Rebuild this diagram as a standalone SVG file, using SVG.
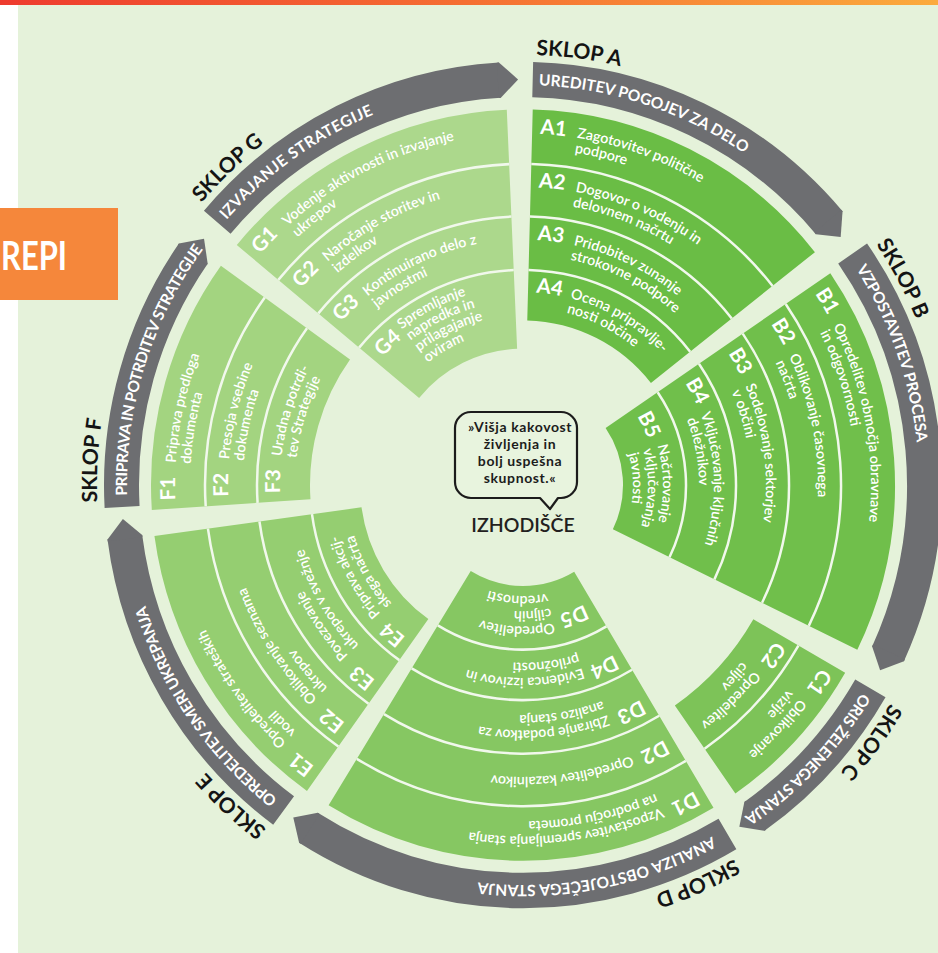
<svg xmlns="http://www.w3.org/2000/svg" xmlns:xlink="http://www.w3.org/1999/xlink" width="938" height="953" viewBox="0 0 938 953">
<defs>
<linearGradient id="tg" x1="0" y1="0" x2="1" y2="0">
<stop offset="0" stop-color="#ee3b2e"/><stop offset="0.5" stop-color="#f56f32"/><stop offset="1" stop-color="#fbab3d"/>
</linearGradient>
<style>
.sk{font-family:Lato,"Open Sans","Liberation Sans",sans-serif;font-weight:700;font-size:21px;fill:#141414}
.bt{font-family:Lato,"Open Sans","Liberation Sans",sans-serif;font-weight:700;font-size:15.5px;fill:#ffffff}
.lb{font-family:Lato,"Open Sans","Liberation Sans",sans-serif;font-weight:700;font-size:20.5px;fill:#ffffff}
.ds{font-family:Lato,"Open Sans","Liberation Sans",sans-serif;font-weight:600;font-size:14.2px;fill:#ffffff}
.band{fill:none;stroke:#6d6e71;stroke-width:35}
.sec{fill:none}
.dv{fill:none;stroke:#f1f8ec;stroke-width:2.5}
.arw{fill:#6d6e71}
</style>
<path id="p426" d="M0,-426A426,426 0 0 1 0,426"/>
<path id="p396" d="M0,-396A396,396 0 0 1 0,396"/>
<path id="p348" d="M0,-348A348,348 0 0 1 0,348"/>
<path id="p333" d="M0,-333A333,333 0 0 1 0,333"/>
<path id="p295" d="M0,-295A295,295 0 0 1 0,295"/>
<path id="p289" d="M0,-289A289,289 0 0 1 0,289"/>
<path id="p280" d="M0,-280A280,280 0 0 1 0,280"/>
<path id="p243" d="M0,-243A243,243 0 0 1 0,243"/>
<path id="p228" d="M0,-228A228,228 0 0 1 0,228"/>
<path id="p196" d="M0,-196A196,196 0 0 1 0,196"/>
<path id="p191" d="M0,-191A191,191 0 0 1 0,191"/>
<path id="p189" d="M0,-189A189,189 0 0 1 0,189"/>
<path id="p182" d="M0,-182A182,182 0 0 1 0,182"/>
<path id="p176" d="M0,-176A176,176 0 0 1 0,176"/>
<path id="p168" d="M0,-168A168,168 0 0 1 0,168"/>
<path id="p154" d="M0,-154A154,154 0 0 1 0,154"/>
<path id="p140" d="M0,-140A140,140 0 0 1 0,140"/>
<path id="p133" d="M0,-133A133,133 0 0 1 0,133"/>
<path id="p125" d="M0,-125A125,125 0 0 1 0,125"/>
<path id="p110" d="M0,-110A110,110 0 0 1 0,110"/>
<path id="arrowhead" d="M-2,-419 L0,-419 L18.2,-401.1 L0,-384 L-2,-384 Z"/>
</defs>

<rect x="0" y="0" width="938" height="953" fill="#ffffff"/>
<rect x="18" y="5" width="920" height="948" fill="#e5f2da"/>
<rect x="0" y="0" width="938" height="5" fill="url(#tg)"/>

<g id="tab">
<rect x="0" y="208" width="118" height="92" fill="#f5873b"/>
<text x="1" y="270" font-family="Lato,'Open Sans','Liberation Sans',sans-serif" font-weight="700" font-size="41" fill="#ffffff" textLength="66" lengthAdjust="spacingAndGlyphs">REPI</text>
</g>

<g id="wheel" transform="translate(523,485) scale(1,1.01)">

<g id="connectors">
<circle class="band" r="401.5" pathLength="360" stroke-dasharray="48.3 311.7" transform="rotate(-88.6)"/>
<use href="#arrowhead" class="arw" transform="rotate(49.7)"/>
<circle class="band" r="401.5" pathLength="360" stroke-dasharray="59.4 300.6" transform="rotate(-34.8)"/>
<use href="#arrowhead" class="arw" transform="rotate(114.6)"/>
<circle class="band" r="401.5" pathLength="360" stroke-dasharray="24.7 335.3" transform="rotate(30.1)"/>
<use href="#arrowhead" class="arw" transform="rotate(144.8)"/>
<circle class="band" r="401.5" pathLength="360" stroke-dasharray="62.9 297.1" transform="rotate(59.4)"/>
<use href="#arrowhead" class="arw" transform="rotate(212.3)"/>
<circle class="band" r="401.5" pathLength="360" stroke-dasharray="46 314" transform="rotate(126.6)"/>
<use href="#arrowhead" class="arw" transform="rotate(262.6)"/>
<circle class="band" r="401.5" pathLength="360" stroke-dasharray="37.9 322.1" transform="rotate(176.9)"/>
<use href="#arrowhead" class="arw" transform="rotate(304.8)"/>
<circle class="band" r="401.5" pathLength="360" stroke-dasharray="46.3 313.7" transform="rotate(220.4)"/>
<use href="#arrowhead" class="arw" transform="rotate(356.7)"/>
</g>

<g id="sklop-a">
<circle class="sec" r="267.5" stroke="#6abd45" stroke-width="209" pathLength="360" stroke-dasharray="50.2 309.8" transform="rotate(-88.5)"/>
<g transform="rotate(-88.5)">
<circle class="dv" r="318" pathLength="360" stroke-dasharray="50.2 309.8"/>
<circle class="dv" r="266" pathLength="360" stroke-dasharray="50.2 309.8"/>
<circle class="dv" r="213" pathLength="360" stroke-dasharray="50.2 309.8"/>
</g>
<text class="bt" transform="rotate(2.3)"><textPath href="#p396" textLength="219" lengthAdjust="spacing">UREDITEV POGOJEV ZA DELO</textPath></text>
<text class="sk" transform="rotate(1.8)"><textPath href="#p426">SKLOP A</textPath></text>
<text class="lb" transform="rotate(2.82)"><textPath href="#p348">A1</textPath></text>
<text class="ds" transform="rotate(8.9)"><textPath href="#p348">Zagotovitev politične</textPath></text>
<text class="ds" transform="rotate(8.9)"><textPath href="#p333">podpore</textPath></text>
<text class="lb" transform="rotate(3.05)"><textPath href="#p295">A2</textPath></text>
<text class="ds" transform="rotate(10.2)"><textPath href="#p295">Dogovor o vodenju in</textPath></text>
<text class="ds" transform="rotate(10.2)"><textPath href="#p280">delovnem načrtu</textPath></text>
<text class="lb" transform="rotate(3.38)"><textPath href="#p243">A3</textPath></text>
<text class="ds" transform="rotate(12)"><textPath href="#p243">Pridobitev zunanje</textPath></text>
<text class="ds" transform="rotate(12)"><textPath href="#p228">strokovne podpore</textPath></text>
<text class="lb" transform="rotate(3.9)"><textPath href="#p191">A4</textPath></text>
<text class="ds" transform="rotate(14.3)"><textPath href="#p191">Ocena pripravlje-</textPath></text>
<text class="ds" transform="rotate(14.3)"><textPath href="#p176">nosti občine</textPath></text>
</g>

<g id="sklop-b">
<circle class="sec" r="236" stroke="#70bf4b" stroke-width="272" pathLength="360" stroke-dasharray="60.3 299.7" transform="rotate(-34.3)"/>
<g transform="rotate(-34.3)">
<circle class="dv" r="318" pathLength="360" stroke-dasharray="60.3 299.7"/>
<circle class="dv" r="266" pathLength="360" stroke-dasharray="60.3 299.7"/>
<circle class="dv" r="213" pathLength="360" stroke-dasharray="60.3 299.7"/>
<circle class="dv" r="163" pathLength="360" stroke-dasharray="60.3 299.7"/>
</g>
<text class="bt" transform="rotate(57.3)"><textPath href="#p396" textLength="184" lengthAdjust="spacing">VZPOSTAVITEV PROCESA</textPath></text>
<text class="sk" transform="rotate(56)"><textPath href="#p426">SKLOP B</textPath></text>
<text class="lb" transform="rotate(57.02)"><textPath href="#p348">B1</textPath></text>
<text class="ds" transform="rotate(63.1)"><textPath href="#p348">Opredelitev območja obravnave</textPath></text>
<text class="ds" transform="rotate(63.1)"><textPath href="#p333">in odgovornosti</textPath></text>
<text class="lb" transform="rotate(57.25)"><textPath href="#p295">B2</textPath></text>
<text class="ds" transform="rotate(64.4)"><textPath href="#p295">Oblikovanje časovnega</textPath></text>
<text class="ds" transform="rotate(64.4)"><textPath href="#p280">načrta</textPath></text>
<text class="lb" transform="rotate(57.58)"><textPath href="#p243">B3</textPath></text>
<text class="ds" transform="rotate(66.2)"><textPath href="#p243">Sodelovanje sektorjev</textPath></text>
<text class="ds" transform="rotate(66.2)"><textPath href="#p228">v občini</textPath></text>
<text class="lb" transform="rotate(58.1)"><textPath href="#p191">B4</textPath></text>
<text class="ds" transform="rotate(68.4)"><textPath href="#p191">Vključevanje ključnih</textPath></text>
<text class="ds" transform="rotate(68.4)"><textPath href="#p176">deležnikov</textPath></text>
<text class="lb" transform="rotate(59.14)"><textPath href="#p133">B5</textPath></text>
<text class="ds" transform="rotate(73.8)"><textPath href="#p140">Načrtovanje</textPath></text>
<text class="ds" transform="rotate(73.8)"><textPath href="#p125">vključevanja</textPath></text>
<text class="ds" transform="rotate(73.8)"><textPath href="#p110">javnosti</textPath></text>
</g>

<g id="sklop-c">
<circle class="sec" r="319" stroke="#7dc358" stroke-width="106" pathLength="360" stroke-dasharray="25.2 334.8" transform="rotate(30)"/>
<circle class="dv" r="318" pathLength="360" stroke-dasharray="25.2 334.8" transform="rotate(30)"/>
<text class="bt" transform="rotate(121.3)"><textPath href="#p396" textLength="171" lengthAdjust="spacing">ORIS ŽELENEGA STANJA</textPath></text>
<text class="sk" transform="rotate(120.5)"><textPath href="#p426">SKLOP C</textPath></text>
<text class="lb" transform="rotate(121.32)"><textPath href="#p348">C1</textPath></text>
<text class="ds" transform="rotate(127.4)"><textPath href="#p348">Oblikovanje</textPath></text>
<text class="ds" transform="rotate(127.4)"><textPath href="#p333">vizije</textPath></text>
<text class="lb" transform="rotate(121.55)"><textPath href="#p295">C2</textPath></text>
<text class="ds" transform="rotate(128.6)"><textPath href="#p295">Opredelitev</textPath></text>
<text class="ds" transform="rotate(128.6)"><textPath href="#p280">ciljev</textPath></text>
</g>

<g id="sklop-d">
<circle class="sec" r="236" stroke="#86c762" stroke-width="272" pathLength="360" stroke-dasharray="62.3 297.7" transform="rotate(59.2)"/>
<g transform="rotate(59.2)">
<circle class="dv" r="318" pathLength="360" stroke-dasharray="62.3 297.7"/>
<circle class="dv" r="266" pathLength="360" stroke-dasharray="62.3 297.7"/>
<circle class="dv" r="213" pathLength="360" stroke-dasharray="62.3 297.7"/>
<circle class="dv" r="163" pathLength="360" stroke-dasharray="62.3 297.7"/>
</g>
<text class="bt" transform="rotate(151.5)"><textPath href="#p396" textLength="242" lengthAdjust="spacing">ANALIZA OBSTOJEČEGA STANJA</textPath></text>
<text class="sk" transform="rotate(150.3)"><textPath href="#p426">SKLOP D</textPath></text>
<text class="lb" transform="rotate(150.52)"><textPath href="#p348">D1</textPath></text>
<text class="ds" transform="rotate(156.6)"><textPath href="#p348">Vzpostavitev spremljanja stanja</textPath></text>
<text class="ds" transform="rotate(156.6)"><textPath href="#p333">na področju prometa</textPath></text>
<text class="lb" transform="rotate(150.78)"><textPath href="#p289">D2</textPath></text>
<text class="ds" transform="rotate(158)"><textPath href="#p289">Opredelitev kazalnikov</textPath></text>
<text class="lb" transform="rotate(151.08)"><textPath href="#p243">D3</textPath></text>
<text class="ds" transform="rotate(159.7)"><textPath href="#p243">Zbiranje podatkov za</textPath></text>
<text class="ds" transform="rotate(159.7)"><textPath href="#p228">analizo stanja</textPath></text>
<text class="lb" transform="rotate(151.6)"><textPath href="#p191">D4</textPath></text>
<text class="ds" transform="rotate(161.9)"><textPath href="#p191">Evidenca izzivov in</textPath></text>
<text class="ds" transform="rotate(161.9)"><textPath href="#p176">priložnosti</textPath></text>
<text class="lb" transform="rotate(152.64)"><textPath href="#p133">D5</textPath></text>
<text class="ds" transform="rotate(167.3)"><textPath href="#p140">Opredelitev</textPath></text>
<text class="ds" transform="rotate(167.3)"><textPath href="#p125">ciljnih</textPath></text>
<text class="ds" transform="rotate(167.3)"><textPath href="#p110">vrednosti</textPath></text>
</g>

<g id="sklop-e">
<circle class="sec" r="267.5" stroke="#95ce71" stroke-width="209" pathLength="360" stroke-dasharray="46.7 313.3" transform="rotate(125.5)"/>
<g transform="rotate(125.5)">
<circle class="dv" r="318" pathLength="360" stroke-dasharray="46.7 313.3"/>
<circle class="dv" r="266" pathLength="360" stroke-dasharray="46.7 313.3"/>
<circle class="dv" r="213" pathLength="360" stroke-dasharray="46.7 313.3"/>
</g>
<text class="bt" transform="rotate(218.3)"><textPath href="#p396" textLength="236" lengthAdjust="spacing">OPREDELITEV SMERI UKREPANJA</textPath></text>
<text class="sk" transform="rotate(217)"><textPath href="#p426">SKLOP E</textPath></text>
<text class="lb" transform="rotate(216.82)"><textPath href="#p348">E1</textPath></text>
<text class="ds" transform="rotate(222.9)"><textPath href="#p348">Opredelitev strateških</textPath></text>
<text class="ds" transform="rotate(222.9)"><textPath href="#p333">vodil</textPath></text>
<text class="lb" transform="rotate(217.05)"><textPath href="#p295">E2</textPath></text>
<text class="ds" transform="rotate(224.2)"><textPath href="#p295">Oblikovanje seznama</textPath></text>
<text class="ds" transform="rotate(224.2)"><textPath href="#p280">ukrepov</textPath></text>
<text class="lb" transform="rotate(217.38)"><textPath href="#p243">E3</textPath></text>
<text class="ds" transform="rotate(226)"><textPath href="#p243">Povezovanje</textPath></text>
<text class="ds" transform="rotate(226)"><textPath href="#p228">ukrepov v svežnje</textPath></text>
<text class="lb" transform="rotate(217.9)"><textPath href="#p191">E4</textPath></text>
<text class="ds" transform="rotate(228.2)"><textPath href="#p191">Priprava akcij-</textPath></text>
<text class="ds" transform="rotate(228.2)"><textPath href="#p176">skega načrta</textPath></text>
</g>

<g id="sklop-f">
<circle class="sec" r="292.5" stroke="#a3d480" stroke-width="159" pathLength="360" stroke-dasharray="39.5 320.5" transform="rotate(176.2)"/>
<g transform="rotate(176.2)">
<circle class="dv" r="318" pathLength="360" stroke-dasharray="39.5 320.5"/>
<circle class="dv" r="266" pathLength="360" stroke-dasharray="39.5 320.5"/>
</g>
<text class="bt" transform="rotate(268.5)"><textPath href="#p396" textLength="260" lengthAdjust="spacing">PRIPRAVA IN POTRDITEV STRATEGIJE</textPath></text>
<text class="sk" transform="rotate(267.7)"><textPath href="#p426">SKLOP F</textPath></text>
<text class="lb" transform="rotate(267.52)"><textPath href="#p348">F1</textPath></text>
<text class="ds" transform="rotate(273.6)"><textPath href="#p348">Priprava predloga</textPath></text>
<text class="ds" transform="rotate(273.6)"><textPath href="#p333">dokumenta</textPath></text>
<text class="lb" transform="rotate(267.75)"><textPath href="#p295">F2</textPath></text>
<text class="ds" transform="rotate(274.9)"><textPath href="#p295">Presoja vsebine</textPath></text>
<text class="ds" transform="rotate(274.9)"><textPath href="#p280">dokumenta</textPath></text>
<text class="lb" transform="rotate(268.08)"><textPath href="#p243">F3</textPath></text>
<text class="ds" transform="rotate(276.7)"><textPath href="#p243">Uradna potrdi-</textPath></text>
<text class="ds" transform="rotate(276.7)"><textPath href="#p228">tev Strategije</textPath></text>
</g>

<g id="sklop-g">
<circle class="sec" r="253.5" stroke="#acd88c" stroke-width="237" pathLength="360" stroke-dasharray="47.8 312.2" transform="rotate(219.7)"/>
<g transform="rotate(219.7)">
<circle class="dv" r="318" pathLength="360" stroke-dasharray="47.8 312.2"/>
<circle class="dv" r="266" pathLength="360" stroke-dasharray="47.8 312.2"/>
<circle class="dv" r="213" pathLength="360" stroke-dasharray="47.8 312.2"/>
</g>
<text class="bt" transform="rotate(311.5)"><textPath href="#p396" textLength="182" lengthAdjust="spacing">IZVAJANJE STRATEGIJE</textPath></text>
<text class="sk" transform="rotate(311)"><textPath href="#p426">SKLOP G</textPath></text>
<text class="lb" transform="rotate(311.02)"><textPath href="#p348">G1</textPath></text>
<text class="ds" transform="rotate(317.4)"><textPath href="#p348">Vodenje aktivnosti in izvajanje</textPath></text>
<text class="ds" transform="rotate(317.4)"><textPath href="#p333">ukrepov</textPath></text>
<text class="lb" transform="rotate(311.25)"><textPath href="#p295">G2</textPath></text>
<text class="ds" transform="rotate(318.5)"><textPath href="#p295">Naročanje storitev in</textPath></text>
<text class="ds" transform="rotate(318.5)"><textPath href="#p280">izdelkov</textPath></text>
<text class="lb" transform="rotate(311.58)"><textPath href="#p243">G3</textPath></text>
<text class="ds" transform="rotate(320.2)"><textPath href="#p243">Kontinuirano delo z</textPath></text>
<text class="ds" transform="rotate(320.2)"><textPath href="#p228">javnostmi</textPath></text>
<text class="lb" transform="rotate(312.12)"><textPath href="#p189">G4</textPath></text>
<text class="ds" transform="rotate(321.8)"><textPath href="#p196">Spremljanje</textPath></text>
<text class="ds" transform="rotate(321.8)"><textPath href="#p182">napredka in</textPath></text>
<text class="ds" transform="rotate(321.8)"><textPath href="#p168">prilagajanje</textPath></text>
<text class="ds" transform="rotate(321.8)"><textPath href="#p154">oviram</textPath></text>
</g>
</g>

<g id="izhodisce">
<path d="M471,412 H561 A16,16 0 0 1 577,428 V482 A16,16 0 0 1 561,498 H558 L550,509 L540,498 H471 A16,16 0 0 1 455,482 V428 A16,16 0 0 1 471,412 Z" fill="#e8f4de" stroke="#1c1c1c" stroke-width="2.2" stroke-linejoin="round"/>
<g font-family="Lato,'Open Sans','Liberation Sans',sans-serif" font-weight="700" font-size="14" letter-spacing="0.6" fill="#1c1c1c" text-anchor="middle">
<text x="520" y="432">»Višja kakovost</text>
<text x="520" y="449">življenja in</text>
<text x="520" y="466">bolj uspešna</text>
<text x="520" y="483">skupnost.«</text>
</g>
<text x="523" y="532" text-anchor="middle" font-family="Lato,'Open Sans','Liberation Sans',sans-serif" font-weight="600" font-size="19.5" fill="#231f20">IZHODIŠČE</text>
</g>
</svg>
